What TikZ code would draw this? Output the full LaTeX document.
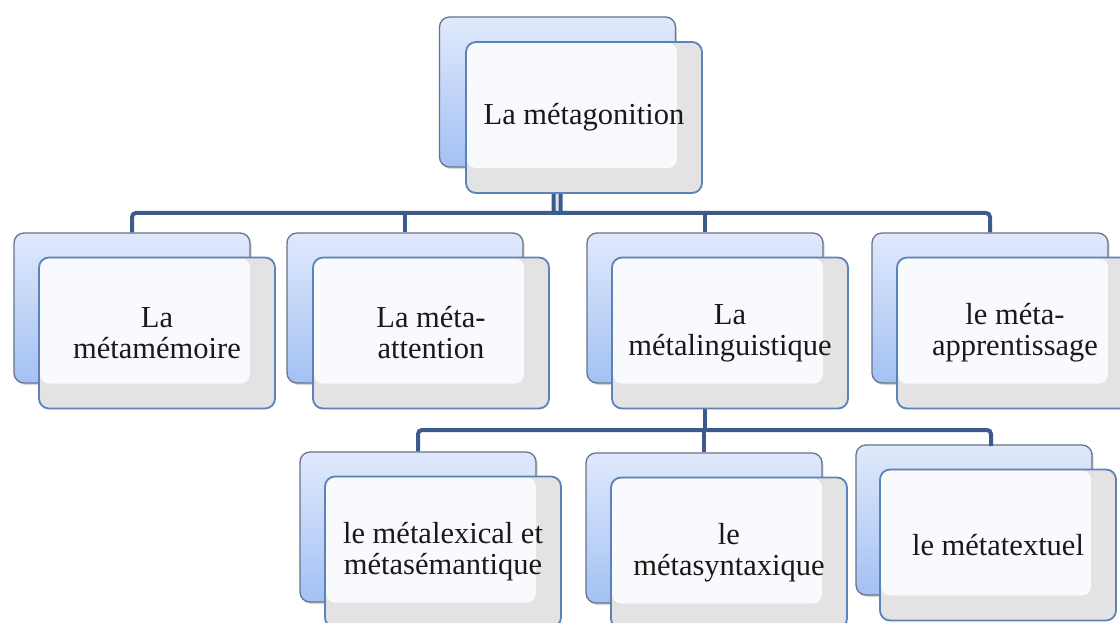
\documentclass[tikz,border=0pt]{standalone}
\usepackage{fontspec}
\setmainfont{Liberation Serif}
\usetikzlibrary{shadows}
\definecolor{backtop}{HTML}{E0E9FB}
\definecolor{backbot}{HTML}{A3C1F4}
\definecolor{backline}{HTML}{667388}
\definecolor{frontgray}{HTML}{E3E3E3}
\definecolor{frontwhite}{HTML}{F8FAFE}
\definecolor{frontline}{HTML}{5B83B9}
\definecolor{connblue}{HTML}{3C5B8B}
\definecolor{gapblue}{HTML}{DCE4F2}
\begin{document}
\begin{tikzpicture}[x=1pt,y=-1pt,
  backbox/.style={rectangle, rounded corners=10pt, minimum width=236pt, minimum height=150pt,
    inner sep=0pt, top color=backtop, bottom color=backbot, draw=backline, line width=1.3pt,
    drop shadow={shadow xshift=1.5pt, shadow yshift=-2pt, opacity=0.3}},
  frontbox/.style={rectangle, rounded corners=10pt, minimum width=236pt, minimum height=151pt,
    inner sep=0pt, fill=frontgray, draw=frontline, line width=1.8pt, align=center,
    text=black!90, font=\fontsize{30.5}{31}\selectfont,
    path picture={\fill[frontwhite, rounded corners=9pt]
      ([xshift=1pt,yshift=-1pt]path picture bounding box.north west) rectangle
      ([xshift=-25pt,yshift=25pt]path picture bounding box.south east);}},
  conn/.style={draw=connblue, line width=4pt, rounded corners=4pt},
  dblconn/.style={draw=connblue, line width=4pt, double=gapblue, double distance=3pt}]
\useasboundingbox (0,0) rectangle (1120,623);
\fill[white] (0,0) rectangle (1120,623);

% coordinates of the buses
\coordinate (bus1) at (557,213);
\coordinate (bus2) at (705,430);
\coordinate (c7) at (991,446);

% back boxes
\node[backbox] (btop) at (557.5,92) {};
\node[backbox] (b1) at (132,308) {};
\node[backbox] (b2) at (405,308) {};
\node[backbox] (b3) at (705,308) {};
\node[backbox] (b4) at (990,308) {};
\node[backbox] (b5) at (418,527) {};
\node[backbox] (b6) at (704,528) {};
\node[backbox] (b7) at (974,520) {};

% connectors
\draw[dblconn] (btop.south) -- (bus1);
\draw[conn] (b1.north) |- (bus1) -| (b4.north);
\draw[conn] (b2.north |- bus1) -- (b2.north);
\draw[conn] (b3.north |- bus1) -- (b3.north);
\draw[conn] (b3.south) -- (bus2);
\draw[conn] (b5.north) |- (bus2) -| (c7);
\draw[conn] (b6.north |- bus2) -- (b6.north);

% front boxes
\node[frontbox] (ftop) at (584,117.5) {La métagonition};
\node[frontbox] (f1) at (157,333) {La\\métamémoire};
\node[frontbox] (f2) at (431,333) {La méta-\\attention};
\node[frontbox] (f3) at (730,333) {La\\métalinguistique};
\node[frontbox] (f4) at (1015,333) {le méta-\\apprentissage};
\node[frontbox] (f5) at (443,552) {le métalexical et\\métasémantique};
\node[frontbox] (f6) at (729,553) {le\\métasyntaxique};
\node[frontbox] (f7) at (998,545) {le métatextuel};
\end{tikzpicture}
\end{document}
